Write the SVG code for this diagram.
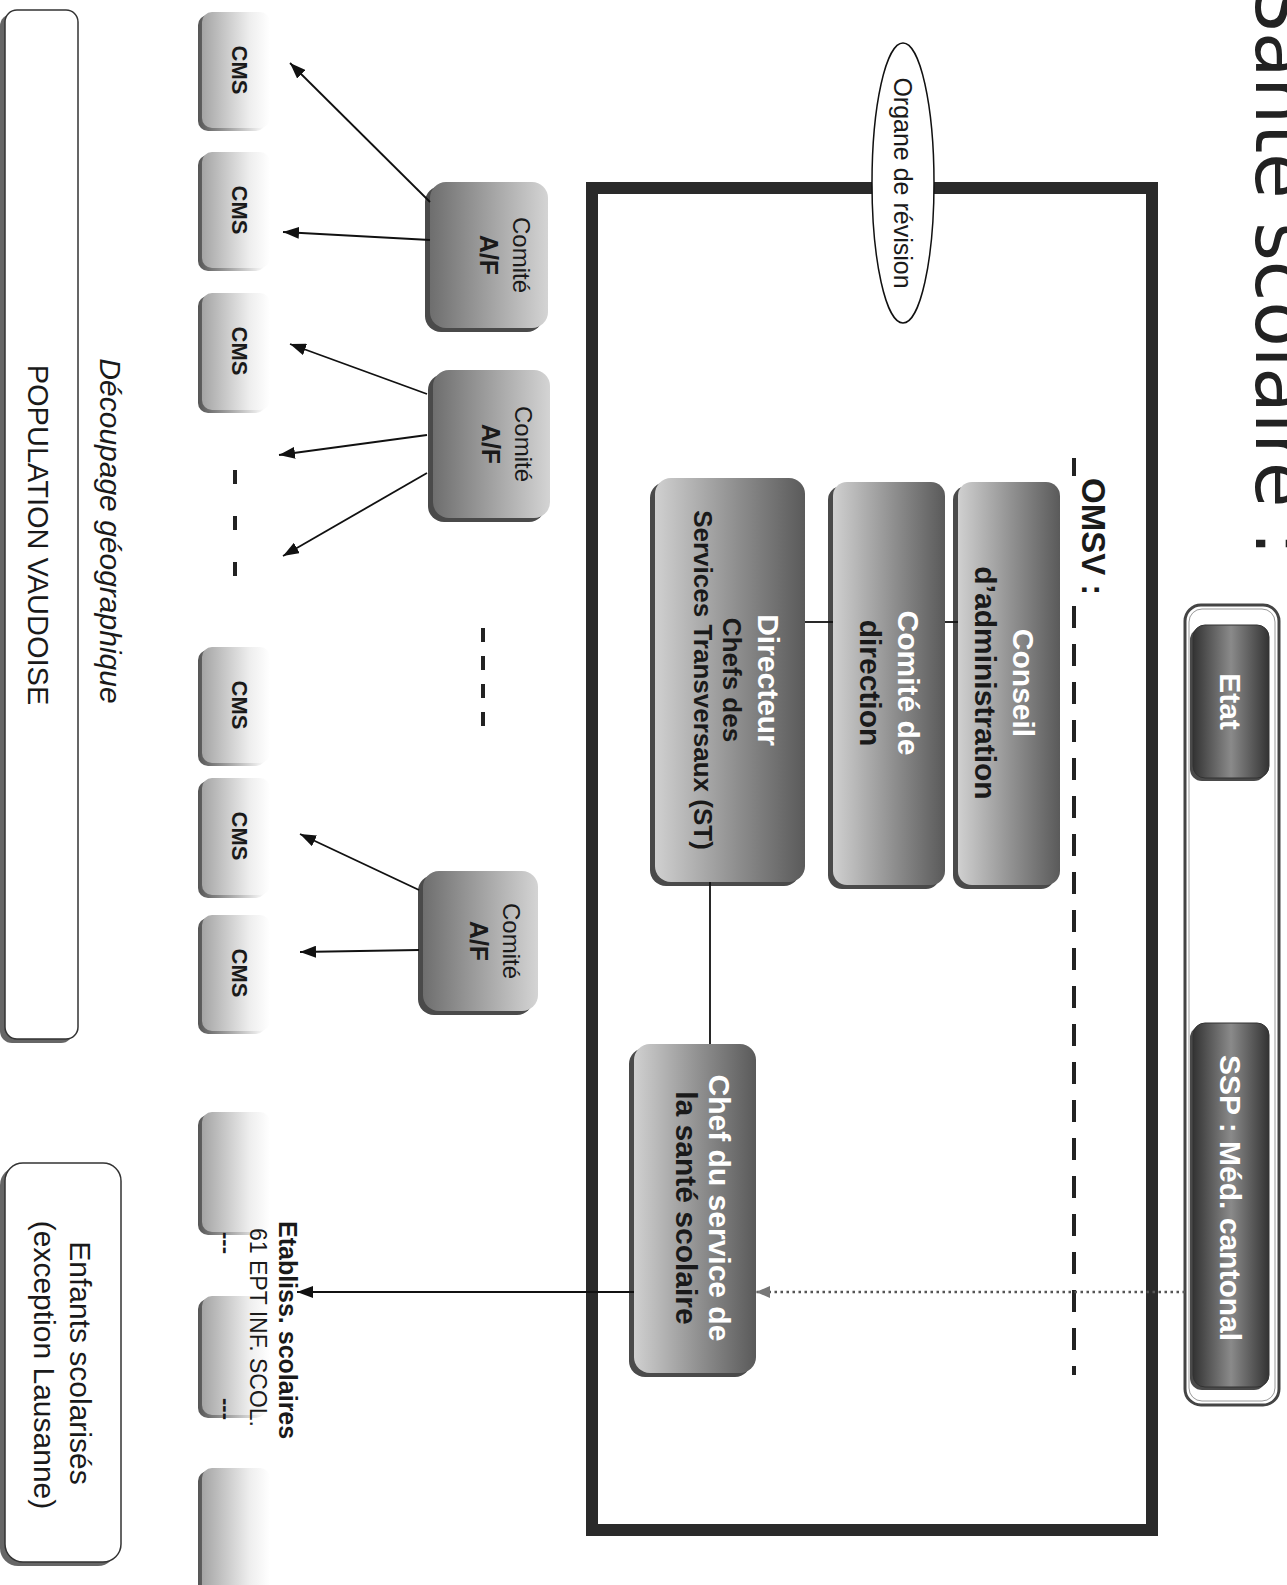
<svg xmlns="http://www.w3.org/2000/svg" width="1287" height="1585" viewBox="0 0 1287 1585">
<style>
.t{font-family:"Liberation Sans",Arial,sans-serif;}
.b{font-weight:bold;}
.w{fill:#ffffff;}
.k{fill:#1a1a1a;}
.m{text-anchor:middle;}
.sh{fill:#4a4a4a;}
.cn{fill:none;stroke:#111;stroke-width:1.8;}
.ar{fill:none;stroke:#111;stroke-width:1.8;marker-end:url(#ah);}
.dk{fill:url(#gDark);}
.cm{fill:url(#gCom);}
.cms{fill:url(#gCms);}
.cmsh{fill:url(#gCmsSh);}
.et{fill:url(#gEtat);stroke:#333;stroke-width:1;}
</style>
<defs>
<linearGradient id="gDark" x1="0" y1="0" x2="0" y2="1">
<stop offset="0" stop-color="#5a5a5a"/>
<stop offset="0.45" stop-color="#8e8e8e"/>
<stop offset="1" stop-color="#d0d0d0"/>
</linearGradient>
<linearGradient id="gEtat" x1="0" y1="0" x2="0" y2="1">
<stop offset="0" stop-color="#333"/>
<stop offset="0.5" stop-color="#8a8a8a"/>
<stop offset="1" stop-color="#333"/>
</linearGradient>
<linearGradient id="gCom" x1="0" y1="0" x2="0" y2="1">
<stop offset="0" stop-color="#d4d4d4"/>
<stop offset="1" stop-color="#6e6e6e"/>
</linearGradient>
<linearGradient id="gCms" x1="0" y1="0" x2="0" y2="1">
<stop offset="0" stop-color="#ffffff"/>
<stop offset="0.3" stop-color="#eeeeee"/>
<stop offset="1" stop-color="#a4a4a4"/>
</linearGradient>
<linearGradient id="gCmsSh" x1="0" y1="0" x2="0" y2="1">
<stop offset="0" stop-color="#ffffff"/>
<stop offset="0.4" stop-color="#bbbbbb"/>
<stop offset="1" stop-color="#555555"/>
</linearGradient>
<marker id="ah" markerUnits="userSpaceOnUse" markerWidth="16" markerHeight="12" refX="16" refY="6" orient="auto">
<path d="M0,0 L16,6 L0,12 z" fill="#111"/>
</marker>
<marker id="ahg" markerUnits="userSpaceOnUse" markerWidth="14" markerHeight="12" refX="14" refY="6" orient="auto">
<path d="M0,0 L14,6 L0,12 z" fill="#777"/>
</marker>
</defs>
<rect x="0" y="0" width="1287" height="1585" fill="#ffffff"/>
<g transform="translate(1287,0) rotate(90)">
<g id="title"><text x="-15" y="31" style="font-family:'DejaVu Sans',sans-serif;font-size:74px;fill:#222">Santé scolaire :</text></g>

<g id="omsv-box"><rect x="188" y="135" width="1342" height="560" fill="none" stroke="#2a2a2a" stroke-width="12"/></g>

<g id="etat-ssp">
<rect x="605" y="8" width="800" height="94" rx="16" fill="#fff" stroke="#444" stroke-width="3"/>
<rect x="609" y="12" width="792" height="86" rx="13" fill="none" stroke="#999" stroke-width="1"/>
</g>
<g id="etat">
<rect x="628" y="21" width="153" height="76" rx="12" class="sh"/>
<rect x="625" y="18" width="153" height="76" rx="12" class="et"/>
<text x="701.5" y="67" class="t b w m" font-size="30">Etat</text>
</g>
<g id="ssp">
<rect x="1026" y="21" width="364" height="76" rx="12" class="sh"/>
<rect x="1023" y="18" width="364" height="76" rx="12" class="et"/>
<text x="1198" y="67" class="t b w m" font-size="30">SSP : Méd. cantonal</text>
</g>

<g id="omsv-label">
<text x="478" y="205" class="t b k" font-size="33">OMSV :</text>
<path d="M458,213 H476 M606,213 H1375" fill="none" stroke="#222" stroke-width="4" stroke-dasharray="22 16"/>
</g>

<g id="organe">
<ellipse cx="183" cy="384" rx="140" ry="31" fill="#fff" stroke="#111" stroke-width="1.5"/>
<text x="183" y="393" class="t k m" font-size="25">Organe de révision</text>
</g>

<g id="conseil">
<rect x="486" y="232" width="403" height="102" rx="14" class="sh"/>
<rect x="482" y="227" width="403" height="102" rx="14" class="dk"/>
<text x="683" y="274" class="t b w m" font-size="30">Conseil</text>
<text x="683" y="312" class="t b k m" font-size="30">d’administration</text>
</g>
<g id="comite-direction">
<rect x="486" y="347" width="403" height="112" rx="14" class="sh"/>
<rect x="482" y="342" width="403" height="112" rx="14" class="dk"/>
<text x="683" y="389" class="t b w m" font-size="30">Comité de</text>
<text x="683" y="427" class="t b k m" font-size="30">direction</text>
</g>
<g id="directeur">
<rect x="482" y="487" width="404" height="150" rx="16" class="sh"/>
<rect x="478" y="482" width="404" height="150" rx="16" class="dk"/>
<text x="680" y="529" class="t b w m" font-size="30">Directeur</text>
<text x="680" y="564" class="t b k m" font-size="26">Chefs des</text>
<text x="680" y="593" class="t b k m" font-size="26">Services Transversaux (ST)</text>
</g>
<g id="chef-sante">
<rect x="1048" y="536" width="329" height="122" rx="16" class="sh"/>
<rect x="1044" y="531" width="329" height="122" rx="16" class="dk"/>
<text x="1208" y="578" class="t b w m" font-size="30">Chef du service de</text>
<text x="1208" y="611" class="t b k m" font-size="30">la santé scolaire</text>
</g>

<g id="comite-af-1">
<rect x="186" y="744" width="146" height="118" rx="16" class="sh"/>
<rect x="182" y="739" width="146" height="118" rx="16" class="cm"/>
<text x="255" y="774" class="t k m" font-size="24">Comité</text>
<text x="255" y="807" class="t b k m" font-size="25">A/F</text>
</g>
<g id="comite-af-2">
<rect x="374" y="742" width="148" height="117" rx="16" class="sh"/>
<rect x="370" y="737" width="148" height="117" rx="16" class="cm"/>
<text x="444" y="772" class="t k m" font-size="24">Comité</text>
<text x="444" y="805" class="t b k m" font-size="25">A/F</text>
</g>
<g id="comite-af-3">
<rect x="875" y="754" width="140" height="115" rx="16" class="sh"/>
<rect x="871" y="749" width="140" height="115" rx="16" class="cm"/>
<text x="941" y="784" class="t k m" font-size="24">Comité</text>
<text x="941" y="817" class="t b k m" font-size="25">A/F</text>
</g>

<g id="cms-1"><rect x="15" y="1021" width="116" height="68" rx="10" class="cmsh"/><rect x="12" y="1017" width="116" height="68" rx="10" class="cms"/><text x="70" y="1055" class="t b k m" font-size="22">CMS</text></g>
<g id="cms-2"><rect x="155" y="1021" width="116" height="68" rx="10" class="cmsh"/><rect x="152" y="1017" width="116" height="68" rx="10" class="cms"/><text x="210" y="1055" class="t b k m" font-size="22">CMS</text></g>
<g id="cms-3"><rect x="296" y="1021" width="117" height="68" rx="10" class="cmsh"/><rect x="293" y="1017" width="117" height="68" rx="10" class="cms"/><text x="351" y="1055" class="t b k m" font-size="22">CMS</text></g>
<g id="cms-4"><rect x="650" y="1021" width="116" height="68" rx="10" class="cmsh"/><rect x="647" y="1017" width="116" height="68" rx="10" class="cms"/><text x="705" y="1055" class="t b k m" font-size="22">CMS</text></g>
<g id="cms-5"><rect x="781" y="1021" width="117" height="68" rx="10" class="cmsh"/><rect x="778" y="1017" width="117" height="68" rx="10" class="cms"/><text x="836" y="1055" class="t b k m" font-size="22">CMS</text></g>
<g id="cms-6"><rect x="918" y="1021" width="116" height="68" rx="10" class="cmsh"/><rect x="915" y="1017" width="116" height="68" rx="10" class="cms"/><text x="973" y="1055" class="t b k m" font-size="22">CMS</text></g>
<g id="cms-dots">
<path d="M470,1052 H580" fill="none" stroke="#222" stroke-width="4" stroke-dasharray="14 32"/>
<path d="M628,804 H728" fill="none" stroke="#222" stroke-width="4" stroke-dasharray="14 14"/>
</g>

<g id="etab-1"><rect x="1115" y="1021" width="120" height="68" rx="10" class="cmsh"/><rect x="1112" y="1017" width="120" height="68" rx="10" class="cms"/></g>
<g id="etab-2"><rect x="1299" y="1021" width="119" height="68" rx="10" class="cmsh"/><rect x="1296" y="1017" width="119" height="68" rx="10" class="cms"/></g>
<g id="etab-3"><rect x="1471" y="1021" width="130" height="68" rx="10" class="cmsh"/><rect x="1468" y="1017" width="130" height="68" rx="10" class="cms"/></g>
<g id="etab-label">
<text x="1221" y="1008" class="t b k" font-size="25">Etabliss. scolaires</text>
<text x="1228" y="1037" class="t k" font-size="23">61 EPT INF. SCOL.</text>
<text x="1232" y="1068" class="t b k" font-size="22">---</text>
<text x="1398" y="1068" class="t b k" font-size="22">---</text>
</g>

<g id="population">
<rect x="14" y="1214" width="1029" height="73" rx="12" fill="#666"/>
<rect x="10" y="1209" width="1029" height="73" rx="12" fill="#fff" stroke="#333" stroke-width="1.5"/>
<text x="535" y="1259" class="t k m" font-size="29">POPULATION VAUDOISE</text>
</g>
<g id="decoupage"><text x="531" y="1187" class="t k m" font-size="30" font-style="italic">Découpage géographique</text></g>

<g id="enfants">
<rect x="1167" y="1171" width="399" height="116" rx="18" fill="#666"/>
<rect x="1163" y="1166" width="399" height="116" rx="18" fill="#fff" stroke="#333" stroke-width="1.5"/>
<text x="1363" y="1217" class="t k m" font-size="30">Enfants scolarisés</text>
<text x="1365" y="1253" class="t k m" font-size="30">(exception Lausanne)</text>
</g>

<g id="connectors">
<path class="cn" d="M622,329 V342"/>
<path class="cn" d="M622,454 V482"/>
<path class="cn" d="M882,577 H1044"/>
<path d="M1292,102 V531" fill="none" stroke="#555" stroke-width="2.5" stroke-dasharray="2.5 3.5" marker-end="url(#ahg)"/>
<path class="ar" d="M1292,653 V990"/>
<path class="ar" d="M202,857 L63,997"/>
<path class="ar" d="M240,857 L232,1004"/>
<path class="ar" d="M394,860 L344,997"/>
<path class="ar" d="M435,860 L455,1008"/>
<path class="ar" d="M473,860 L556,1004"/>
<path class="ar" d="M890,868 L834,987"/>
<path class="ar" d="M950,868 L952,987"/>
</g>
</g>
</svg>
